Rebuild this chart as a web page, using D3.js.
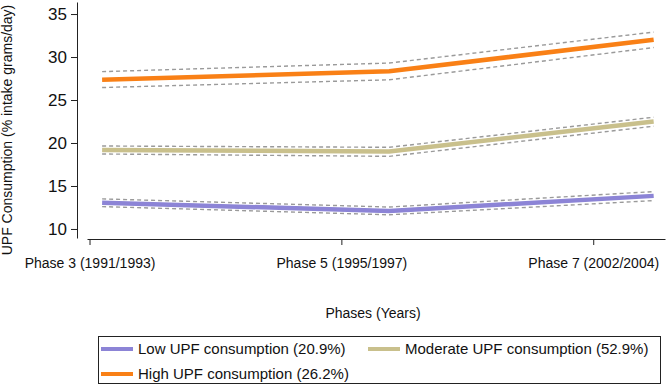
<!DOCTYPE html>
<html>
<head>
<meta charset="utf-8">
<script src="https://cdn.jsdelivr.net/npm/d3@7"></script>
<style>
  body { margin: 0; background: #fff; }
  text { font-family: "Liberation Sans", Arial, sans-serif; fill: #111; }
</style>
</head>
<body>
<svg width="669" height="386"></svg>
<script>
// phase positions of the fitted points
const phaseX = [3.10, 5.38, 7.48];
const tickPhases = [3, 5, 7];
const tickLabels = ["Phase 3 (1991/1993)", "Phase 5 (1995/1997)", "Phase 7 (2002/2004)"];
const yTicks = [10, 15, 20, 25, 30, 35];

const seriesNames = ["Low UPF consumption (20.9%)", "Moderate UPF consumption (52.9%)", "High UPF consumption (26.2%)"];
const seriesColors = ["#8c84d6", "#c9c08c", "#f98016"];

const lowMean = [13.05, 12.1, 13.85];
const lowUpper = [13.5, 12.55, 14.35];
const lowLower = [12.6, 11.65, 13.3];

const modMean = [19.2, 19.0, 22.5];
const modUpper = [19.65, 19.5, 23.0];
const modLower = [18.72, 18.45, 21.95];

const highMean = [27.35, 28.35, 32.0];
const highUpper = [28.3, 29.3, 32.9];
const highLower = [26.45, 27.35, 31.1];

const series = [
  { mean: lowMean, upper: lowUpper, lower: lowLower },
  { mean: modMean, upper: modUpper, lower: modLower },
  { mean: highMean, upper: highUpper, lower: highLower }
];

var svg = d3.select("svg");

var x = d3.scaleLinear().domain([2.98, 7.57]).range([87, 665]);
var y = d3.scaleLinear().domain([8.95, 36.4]).range([238, 2]);

// y axis
var yAxis = svg.append("g")
  .attr("transform", "translate(77,0)")
  .call(d3.axisLeft(y).tickValues(yTicks).tickSize(6).tickPadding(4).tickSizeOuter(0));
yAxis.selectAll("text").attr("font-size", "17px").style("font-family", "Liberation Sans, Arial, sans-serif");
yAxis.select(".domain").attr("stroke", "#222");
yAxis.selectAll(".tick line").attr("stroke", "#222");

// x axis
var xAxis = svg.append("g")
  .attr("transform", "translate(0,239)")
  .call(d3.axisBottom(x).tickValues(tickPhases)
    .tickFormat(function (d, i) { return tickLabels[i]; })
    .tickSize(6).tickPadding(13).tickSizeOuter(0));
xAxis.selectAll("text").attr("font-size", "14px").style("font-family", "Liberation Sans, Arial, sans-serif");
xAxis.select(".domain").attr("stroke", "#222");
xAxis.selectAll(".tick line").attr("stroke", "#222");

// axis titles
svg.append("text")
  .attr("transform", "translate(12,130) rotate(-90)")
  .attr("text-anchor", "middle")
  .attr("font-size", "14px")
  .text("UPF Consumption (% intake grams/day)");

svg.append("text")
  .attr("x", 373)
  .attr("y", 318)
  .attr("text-anchor", "middle")
  .attr("font-size", "14px")
  .text("Phases (Years)");

var line = d3.line()
  .x(function (d, i) { return x(phaseX[i]); })
  .y(function (d) { return y(d); });

series.forEach(function (s, k) {
  svg.append("path")
    .attr("d", line(s.mean))
    .attr("fill", "none")
    .attr("stroke", seriesColors[k])
    .attr("stroke-width", 4.5);
  [s.upper, s.lower].forEach(function (b) {
    svg.append("path")
      .attr("d", line(b))
      .attr("fill", "none")
      .attr("stroke", "#9a9a9a")
      .attr("stroke-width", 1.4)
      .attr("stroke-dasharray", "4,3");
  });
});

// legend
var lg = svg.append("g");
lg.append("rect")
  .attr("x", 98.5).attr("y", 336.5)
  .attr("width", 562).attr("height", 47)
  .attr("fill", "none").attr("stroke", "#222");

var legendPos = [[101, 349], [368, 349], [101, 374]];
seriesNames.forEach(function (name, k) {
  var p = legendPos[k];
  lg.append("line")
    .attr("x1", p[0]).attr("x2", p[0] + 32)
    .attr("y1", p[1]).attr("y2", p[1])
    .attr("stroke", seriesColors[k]).attr("stroke-width", 4);
  lg.append("text")
    .attr("x", p[0] + 37).attr("y", p[1] + 5)
    .attr("font-size", "15px")
    .text(name);
});
</script>
</body>
</html>
